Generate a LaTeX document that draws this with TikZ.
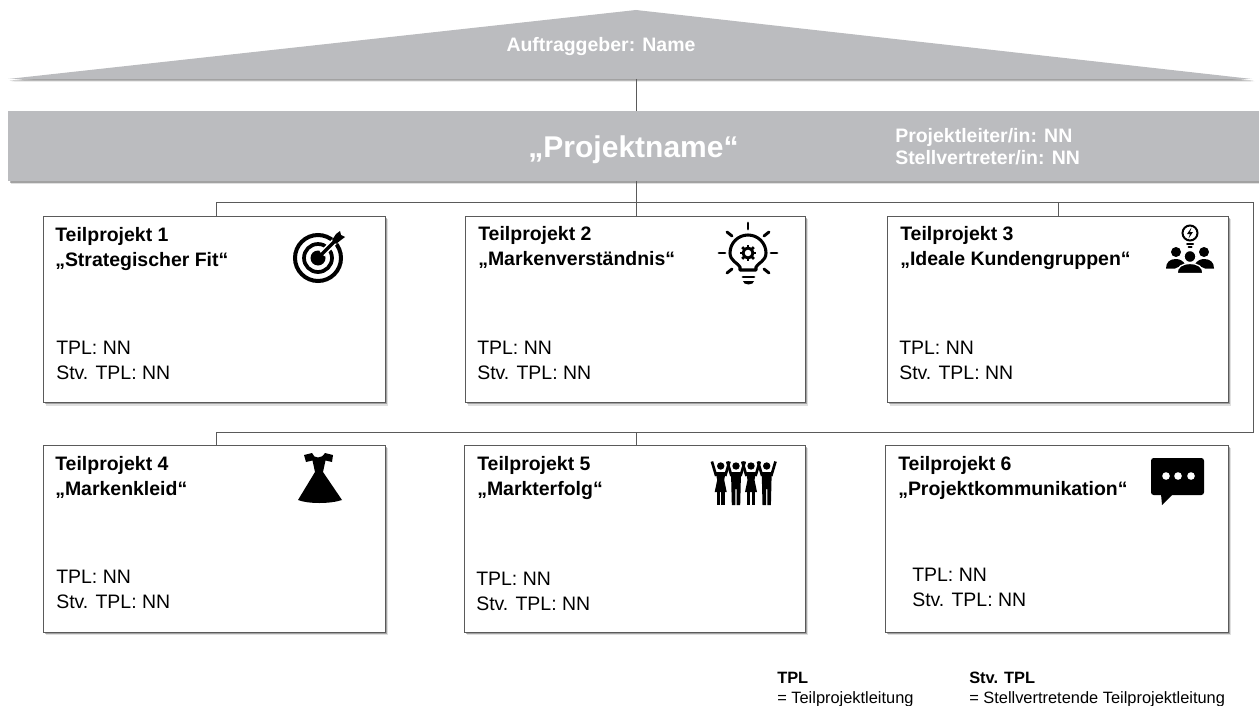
\documentclass[tikz,border=0pt]{standalone}
\usepackage{fontspec}
\setmainfont{Liberation Sans}
\usetikzlibrary{shadows,calc}
\definecolor{barc}{HTML}{BBBCBF}
\definecolor{linec}{HTML}{5A5A5A}
\tikzset{
  x=0.75pt,y=-0.75pt,
  softshadow/.style={
    drop shadow={shadow xshift=2pt,shadow yshift=-2pt,fill=black,opacity=.12},
    drop shadow={shadow xshift=1.2pt,shadow yshift=-1.2pt,fill=black,opacity=.28}},
  barnode/.style={fill=barc,inner sep=0pt,softshadow,minimum width=938.25pt,minimum height=52.5pt},
  tpbox/.style={draw=linec,line width=0.6pt,fill=white,inner sep=0pt,softshadow,minimum width=#1,minimum height=140pt},
  tpbox/.default=256.5pt,
  conn/.style={draw=linec,line width=0.7pt},
  whitehead/.style={text=white,font=\bfseries\fontsize{14.6}{16}\selectfont,inner sep=0pt},
  title/.style={anchor=north west,inner sep=0pt,align=left,font=\bfseries\fontsize{14.6}{18.75}\selectfont},
  lead/.style={anchor=north west,inner sep=0pt,align=left,font=\fontsize{14.6}{18.75}\selectfont},
  legend/.style={anchor=north west,inner sep=0pt,align=left,font=\fontsize{12.3}{14.6}\selectfont},
  iconline/.style={draw=black,line width=#1,line cap=round},
}
\begin{document}
\begin{tikzpicture}
\useasboundingbox (0,0) rectangle (1259,706);
% roof
\coordinate (roofbase) at (636,79);
\fill[barc,softshadow] (8,79) -- (636,10) -- (1252,79) -- cycle;
\node[whitehead] (client) at (601,47) {Auftraggeber: Name};
% project bar
\node[barnode] (bar) at (633.5,146) {};
\node[anchor=base,text=white,font=\bfseries\fontsize{22.5}{26}\selectfont,inner sep=0pt] (pname) at (633.5,157) {„Projektname“};
\node[anchor=north west,inner sep=0pt,align=left,text=white,font=\bfseries\fontsize{14.6}{16.5}\selectfont] (lead0) at (895,128) {Projektleiter/in: NN\\Stellvertreter/in: NN};
% boxes
\node[tpbox=256.5pt] (b1) at (214,309.5) {};
\node[tpbox=255pt] (b2) at (635,309.5) {};
\node[tpbox=255.75pt] (b3) at (1057.5,309.5) {};
\node[tpbox=256.5pt] (b4) at (214,539) {};
\node[tpbox=255.75pt] (b5) at (634.5,539) {};
\node[tpbox=257.25pt] (b6) at (1056.5,539) {};
% connectors
\coordinate (busL) at (216,202);
\coordinate (busM) at (636,202);
\coordinate (busT) at (1058,202);
\coordinate (busR) at (1253,202);
\coordinate (ret) at (1253,432);
\coordinate (retM) at (636,432);
\coordinate (retL) at (216,432);
\draw[conn] (roofbase) -- (roofbase |- bar.north);
\draw[conn] (busM |- bar.south) -- (busM |- b2.north);
\draw[conn] (busL |- b1.north) -- (busL) -- (busR) -- (ret) -- (retL) -- (retL |- b4.north);
\draw[conn] (busT) -- (busT |- b3.north);
\draw[conn] (retM) -- (retM |- b5.north);
% texts
\node[title] (t1) at (55,227) {Teilprojekt 1\\„Strategischer Fit“};
\node[title] (t2) at (478,226) {Teilprojekt 2\\„Markenverständnis“};
\node[title] (t3) at (900,226) {Teilprojekt 3\\„Ideale Kundengruppen“};
\node[title] (t4) at (55,456) {Teilprojekt 4\\„Markenkleid“};
\node[title] (t5) at (477,456) {Teilprojekt 5\\„Markterfolg“};
\node[title] (t6) at (898,456) {Teilprojekt 6\\„Projektkommunikation“};
\node[lead] (l1) at (56,341) {TPL: NN\\Stv. TPL: NN};
\node[lead] (l2) at (477,341) {TPL: NN\\Stv. TPL: NN};
\node[lead] (l3) at (899,341) {TPL: NN\\Stv. TPL: NN};
\node[lead] (l4) at (56,570) {TPL: NN\\Stv. TPL: NN};
\node[lead] (l5) at (476,572) {TPL: NN\\Stv. TPL: NN};
\node[lead] (l6) at (912,568) {TPL: NN\\Stv. TPL: NN};
\node[legend] (k1) at (777,672) {\textbf{TPL}\\= Teilprojektleitung};
\node[legend] (k2) at (969,672) {\textbf{Stv. TPL}\\= Stellvertretende Teilprojektleitung};
% icon: target
\begin{scope}
\draw[line width=3pt] (318,258) circle[radius=23];
\draw[line width=2.8pt] (318,258) circle[radius=14];
\fill (318,258) circle[radius=7.5];
\draw[white,line width=5pt] (322,254) -- (345,231);
\draw[black,line width=2.4pt] (318,258) -- (338,238);
\fill (332,240) -- (336,234) -- (340,231) -- (341,235) -- (345,237) -- (341,240) -- (336,244) -- cycle;
\end{scope}
% icon: bulb with gear
\begin{scope}
\draw[iconline=2.3pt,line join=round] (740,270) -- (740,267) .. controls (738,263) and (730,261) .. (730,253) arc[start angle=180,end angle=360,radius=18] .. controls (766,261) and (758,263) .. (756,267) -- (756,270) -- cycle;
\draw[line width=2.2pt] (748,253) circle[radius=5];
\foreach \a in {0,45,...,315}{\draw[line width=2pt] ($(748,253)+(\a:5)$) -- ($(748,253)+(\a:8.3)$);}
\draw[iconline=2.2pt] (748,223) -- (748,229);
\draw[iconline=2.2pt] (719,253) -- (725,253);
\draw[iconline=2.2pt] (771,253) -- (777,253);
\draw[iconline=2.2pt] (727,232) -- (732,236);
\draw[iconline=2.2pt] (769,232) -- (764,236);
\draw[iconline=2.2pt] (727,273) -- (732,269);
\draw[iconline=2.2pt] (769,273) -- (764,269);
\draw[iconline=2.2pt] (743,277) -- (754,277);
\fill (743,281) -- (754,281) arc[start angle=0,end angle=180,radius=5.5,y radius=3.5] -- cycle;
\end{scope}
% icon: group with idea
\begin{scope}
\draw[line width=1.5pt] (1190,233) circle[radius=7.5];
\fill (1191.5,227.5) -- (1187,234) -- (1190,234) -- (1188.5,238.5) -- (1193,232) -- (1190,232) -- cycle;
\draw[iconline=1.5pt] (1187,243.5) -- (1193,243.5);
\draw[iconline=1.5pt] (1188.5,247) -- (1191.5,247);
\fill (1176,252) circle[radius=5];
\fill (1204,252) circle[radius=5];
\fill (1166,268.5) .. controls (1166,262) and (1170,259) .. (1176,259) .. controls (1180,259) and (1183,261) .. (1185,264) -- (1175,268.5) -- cycle;
\fill (1214,268.5) .. controls (1214,262) and (1210,259) .. (1204,259) .. controls (1200,259) and (1197,261) .. (1195,264) -- (1205,268.5) -- cycle;
\filldraw[fill=black,draw=white,line width=1pt] (1190,256.5) circle[radius=6];
\filldraw[fill=black,draw=white,line width=1pt] (1177,273.5) .. controls (1177,267) and (1182,263.5) .. (1190,263.5) .. controls (1198,263.5) and (1203,267) .. (1203,273.5) -- cycle;
\end{scope}
% icon: dress
\fill (312,453) .. controls (313,456) and (315,457.5) .. (318,457.5) .. controls (321,457.5) and (323,456) .. (325,453) -- (333,455) -- (332,462) -- (325.5,460.5) -- (323,472) -- (342,500) .. controls (330,504) and (308,504) .. (298,500) -- (315,472) -- (312.5,460.5) -- (306,462) -- (304,455) -- cycle;
% icon: cheering people
\foreach \c/\k in {720.7/0,736/1,751/0,766.7/1}{
  \fill (\c,466) circle[radius=3.7];
  \draw[line width=2pt] (\c-4.5,476) -- (\c-8.8,461.5);
  \draw[line width=2pt] (\c+4.5,476) -- (\c+8.8,461.5);
  \ifnum\k=0
    \fill (\c-5,472) -- (\c+5,472) -- (\c+3.5,480) -- (\c+6,492) -- (\c-6,492) -- (\c-3.5,480) -- cycle;
    \fill (\c-4,491) rectangle (\c-.7,505);
    \fill (\c+.7,491) rectangle (\c+4,505);
  \else
    \fill (\c-5,472) -- (\c+5,472) -- (\c+4.2,505) -- (\c+.7,505) -- (\c+.7,489) -- (\c-.7,489) -- (\c-.7,505) -- (\c-4.2,505) -- cycle;
  \fi
}
% icon: speech bubble
\fill[rounded corners=2pt] (1151,458) rectangle (1204,495);
\fill (1161,494) -- (1162,505) -- (1173,494) -- cycle;
\foreach \d in {1166,1178,1191}{\fill[white] (\d,476) circle[radius=3.8];}
\end{tikzpicture}
\end{document}
